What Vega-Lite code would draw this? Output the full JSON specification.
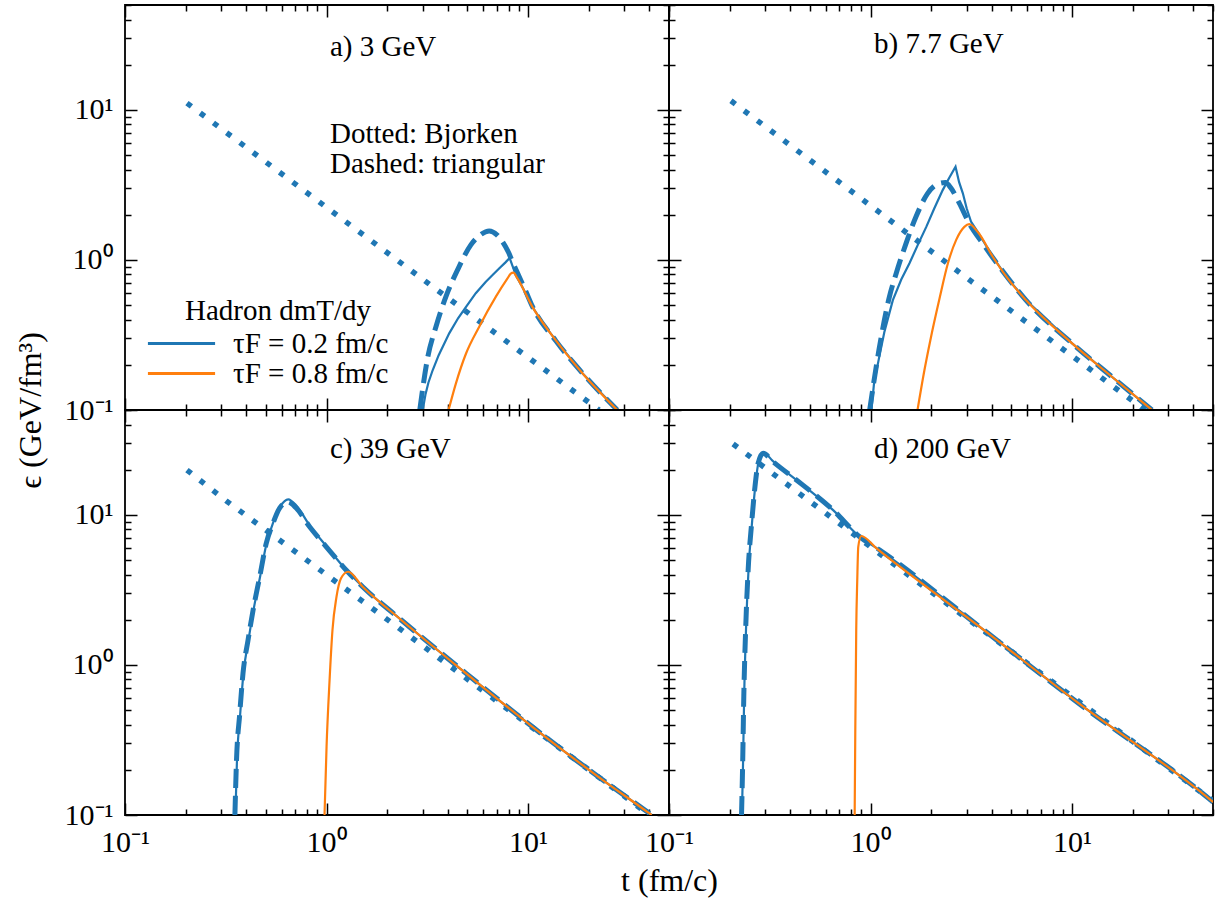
{
  "$schema": "https://vega.github.io/schema/vega-lite/v6.json",
  "background": "white",
  "padding": {"left": 13, "top": 3, "right": 5, "bottom": 5},
  "datasets": {
    "d": [
      {"p":"a","c":"bj","t":0.203,"e":11.1},{"p":"a","c":"bj","t":3.43,"e":0.65},{"p":"a","c":"bj","t":22.5,"e":0.1},
      {"p":"a","c":"tri","t":2.9,"e":0.1},{"p":"a","c":"tri","t":3.18,"e":0.226},{"p":"a","c":"tri","t":3.49,"e":0.359},{"p":"a","c":"tri","t":3.91,"e":0.569},{"p":"a","c":"tri","t":4.46,"e":0.855},{"p":"a","c":"tri","t":5.2,"e":1.26},{"p":"a","c":"tri","t":5.8,"e":1.47},{"p":"a","c":"tri","t":6.41,"e":1.56},{"p":"a","c":"tri","t":7.0,"e":1.47},{"p":"a","c":"tri","t":7.47,"e":1.32},{"p":"a","c":"tri","t":8.0,"e":1.12},{"p":"a","c":"tri","t":8.37,"e":0.97},{"p":"a","c":"tri","t":9.0,"e":0.78},{"p":"a","c":"tri","t":9.73,"e":0.62},{"p":"a","c":"tri","t":10.5,"e":0.49},{"p":"a","c":"tri","t":13.7,"e":0.29},{"p":"a","c":"tri","t":18.6,"e":0.176},{"p":"a","c":"tri","t":27.7,"e":0.1},
      {"p":"a","c":"s02","t":3.0,"e":0.1},{"p":"a","c":"s02","t":3.1,"e":0.128},{"p":"a","c":"s02","t":3.2,"e":0.152},{"p":"a","c":"s02","t":3.36,"e":0.184},{"p":"a","c":"s02","t":3.6,"e":0.232},{"p":"a","c":"s02","t":4.06,"e":0.324},{"p":"a","c":"s02","t":4.5,"e":0.41},{"p":"a","c":"s02","t":4.92,"e":0.487},{"p":"a","c":"s02","t":5.5,"e":0.6},{"p":"a","c":"s02","t":6.17,"e":0.716},{"p":"a","c":"s02","t":6.7,"e":0.8},{"p":"a","c":"s02","t":7.2,"e":0.88},{"p":"a","c":"s02","t":7.7,"e":0.96},{"p":"a","c":"s02","t":8.1,"e":1.03},{"p":"a","c":"s02","t":8.4,"e":0.9},{"p":"a","c":"s02","t":8.69,"e":0.79},{"p":"a","c":"s02","t":9.2,"e":0.69},{"p":"a","c":"s02","t":10.5,"e":0.487},{"p":"a","c":"s02","t":12,"e":0.37},{"p":"a","c":"s02","t":13.7,"e":0.292},{"p":"a","c":"s02","t":18.6,"e":0.176},{"p":"a","c":"s02","t":27.7,"e":0.1},
      {"p":"a","c":"s08","t":4.03,"e":0.1},{"p":"a","c":"s08","t":4.38,"e":0.15},{"p":"a","c":"s08","t":4.92,"e":0.238},{"p":"a","c":"s08","t":5.72,"e":0.359},{"p":"a","c":"s08","t":6.92,"e":0.569},{"p":"a","c":"s08","t":7.9,"e":0.753},{"p":"a","c":"s08","t":8.2,"e":0.81},{"p":"a","c":"s08","t":8.45,"e":0.822},{"p":"a","c":"s08","t":8.85,"e":0.753},{"p":"a","c":"s08","t":10.5,"e":0.487},{"p":"a","c":"s08","t":13.7,"e":0.292},{"p":"a","c":"s08","t":18.6,"e":0.176},{"p":"a","c":"s08","t":27.7,"e":0.1},

      {"p":"b","c":"bj","t":0.203,"e":11.5},{"p":"b","c":"bj","t":2.92,"e":0.78},{"p":"b","c":"bj","t":23,"e":0.1},
      {"p":"b","c":"tri","t":0.99,"e":0.1},{"p":"b","c":"tri","t":1.1,"e":0.25},{"p":"b","c":"tri","t":1.24,"e":0.568},{"p":"b","c":"tri","t":1.34,"e":0.813},{"p":"b","c":"tri","t":1.5,"e":1.29},{"p":"b","c":"tri","t":1.68,"e":1.94},{"p":"b","c":"tri","t":1.92,"e":2.78},{"p":"b","c":"tri","t":2.2,"e":3.24},{"p":"b","c":"tri","t":2.35,"e":3.28},{"p":"b","c":"tri","t":2.51,"e":3.0},{"p":"b","c":"tri","t":2.76,"e":2.38},{"p":"b","c":"tri","t":3.09,"e":1.75},{"p":"b","c":"tri","t":3.6,"e":1.29},{"p":"b","c":"tri","t":4.36,"e":0.9},{"p":"b","c":"tri","t":5.9,"e":0.54},{"p":"b","c":"tri","t":10,"e":0.278},{"p":"b","c":"tri","t":15.8,"e":0.166},{"p":"b","c":"tri","t":24.9,"e":0.1},
      {"p":"b","c":"s02","t":1.01,"e":0.1},{"p":"b","c":"s02","t":1.04,"e":0.15},{"p":"b","c":"s02","t":1.1,"e":0.22},{"p":"b","c":"s02","t":1.17,"e":0.33},{"p":"b","c":"s02","t":1.29,"e":0.54},{"p":"b","c":"s02","t":1.42,"e":0.74},{"p":"b","c":"s02","t":1.56,"e":0.95},{"p":"b","c":"s02","t":1.72,"e":1.27},{"p":"b","c":"s02","t":1.89,"e":1.66},{"p":"b","c":"s02","t":2.07,"e":2.2},{"p":"b","c":"s02","t":2.28,"e":2.92},{"p":"b","c":"s02","t":2.45,"e":3.5},{"p":"b","c":"s02","t":2.64,"e":4.18},{"p":"b","c":"s02","t":2.75,"e":3.3},{"p":"b","c":"s02","t":2.87,"e":2.78},{"p":"b","c":"s02","t":3.0,"e":2.2},{"p":"b","c":"s02","t":3.15,"e":1.8},{"p":"b","c":"s02","t":3.4,"e":1.54},{"p":"b","c":"s02","t":4.04,"e":1.05},{"p":"b","c":"s02","t":4.79,"e":0.753},{"p":"b","c":"s02","t":5.9,"e":0.54},{"p":"b","c":"s02","t":10,"e":0.278},{"p":"b","c":"s02","t":15.8,"e":0.166},{"p":"b","c":"s02","t":24.9,"e":0.1},
      {"p":"b","c":"s08","t":1.71,"e":0.1},{"p":"b","c":"s08","t":1.85,"e":0.184},{"p":"b","c":"s08","t":1.98,"e":0.292},{"p":"b","c":"s08","t":2.2,"e":0.555},{"p":"b","c":"s08","t":2.42,"e":0.95},{"p":"b","c":"s08","t":2.66,"e":1.36},{"p":"b","c":"s08","t":2.92,"e":1.66},{"p":"b","c":"s08","t":3.09,"e":1.73},{"p":"b","c":"s08","t":3.4,"e":1.54},{"p":"b","c":"s08","t":4.04,"e":1.05},{"p":"b","c":"s08","t":4.79,"e":0.753},{"p":"b","c":"s08","t":5.9,"e":0.54},{"p":"b","c":"s08","t":10,"e":0.278},{"p":"b","c":"s08","t":15.8,"e":0.166},{"p":"b","c":"s08","t":24.9,"e":0.1},

      {"p":"c","c":"bj","t":0.203,"e":19.9},{"p":"c","c":"bj","t":0.318,"e":12.4},{"p":"c","c":"bj","t":2.58,"e":1.56},{"p":"c","c":"bj","t":40,"e":0.1},
      {"p":"c","c":"tri","t":0.351,"e":0.1},{"p":"c","c":"tri","t":0.357,"e":0.221},{"p":"c","c":"tri","t":0.371,"e":0.475},{"p":"c","c":"tri","t":0.385,"e":0.879},{"p":"c","c":"tri","t":0.408,"e":1.47},{"p":"c","c":"tri","t":0.432,"e":2.32},{"p":"c","c":"tri","t":0.466,"e":3.87},{"p":"c","c":"tri","t":0.502,"e":6.46},{"p":"c","c":"tri","t":0.542,"e":8.78},{"p":"c","c":"tri","t":0.585,"e":11.1},{"p":"c","c":"tri","t":0.643,"e":12.2},{"p":"c","c":"tri","t":0.707,"e":11.1},{"p":"c","c":"tri","t":0.824,"e":8.34},{"p":"c","c":"tri","t":0.997,"e":6.13},{"p":"c","c":"tri","t":1.25,"e":4.29},{"p":"c","c":"tri","t":1.51,"e":3.32},{"p":"c","c":"tri","t":2.3,"e":2.04},{"p":"c","c":"tri","t":4.92,"e":0.879},{"p":"c","c":"tri","t":10.5,"e":0.387},{"p":"c","c":"tri","t":22.4,"e":0.179},{"p":"c","c":"tri","t":39,"e":0.105},{"p":"c","c":"tri","t":41,"e":0.1},
      {"p":"c","c":"s02","t":0.353,"e":0.1},{"p":"c","c":"s02","t":0.359,"e":0.221},{"p":"c","c":"s02","t":0.373,"e":0.475},{"p":"c","c":"s02","t":0.387,"e":0.879},{"p":"c","c":"s02","t":0.41,"e":1.47},{"p":"c","c":"s02","t":0.434,"e":2.32},{"p":"c","c":"s02","t":0.468,"e":3.87},{"p":"c","c":"s02","t":0.504,"e":6.46},{"p":"c","c":"s02","t":0.544,"e":8.9},{"p":"c","c":"s02","t":0.59,"e":11.4},{"p":"c","c":"s02","t":0.645,"e":12.7},{"p":"c","c":"s02","t":0.71,"e":11.5},{"p":"c","c":"s02","t":0.824,"e":8.5},{"p":"c","c":"s02","t":0.997,"e":6.2},{"p":"c","c":"s02","t":1.25,"e":4.3},{"p":"c","c":"s02","t":1.51,"e":3.32},{"p":"c","c":"s02","t":2.3,"e":2.04},{"p":"c","c":"s02","t":4.92,"e":0.879},{"p":"c","c":"s02","t":10.5,"e":0.387},{"p":"c","c":"s02","t":22.4,"e":0.179},{"p":"c","c":"s02","t":39,"e":0.105},{"p":"c","c":"s02","t":41,"e":0.1},
      {"p":"c","c":"s08","t":0.977,"e":0.1},{"p":"c","c":"s08","t":1.0,"e":0.285},{"p":"c","c":"s08","t":1.035,"e":0.79},{"p":"c","c":"s08","t":1.07,"e":1.71},{"p":"c","c":"s08","t":1.12,"e":2.84},{"p":"c","c":"s08","t":1.18,"e":3.78},{"p":"c","c":"s08","t":1.28,"e":4.18},{"p":"c","c":"s08","t":1.51,"e":3.32},{"p":"c","c":"s08","t":2.3,"e":2.04},{"p":"c","c":"s08","t":4.92,"e":0.879},{"p":"c","c":"s08","t":10.5,"e":0.387},{"p":"c","c":"s08","t":22.4,"e":0.179},{"p":"c","c":"s08","t":39,"e":0.105},{"p":"c","c":"s08","t":41,"e":0.1},

      {"p":"d","c":"bj","t":0.208,"e":29.7},{"p":"d","c":"bj","t":1.2,"e":5.1},{"p":"d","c":"bj","t":50,"e":0.124},
      {"p":"d","c":"tri","t":0.229,"e":0.1},{"p":"d","c":"tri","t":0.232,"e":0.221},{"p":"d","c":"tri","t":0.235,"e":0.614},{"p":"d","c":"tri","t":0.24,"e":1.71},{"p":"d","c":"tri","t":0.247,"e":4.29},{"p":"d","c":"tri","t":0.257,"e":8.78},{"p":"d","c":"tri","t":0.267,"e":15.4},{"p":"d","c":"tri","t":0.277,"e":22.1},{"p":"d","c":"tri","t":0.293,"e":25.7},{"p":"d","c":"tri","t":0.328,"e":22.6},{"p":"d","c":"tri","t":0.462,"e":15.8},{"p":"d","c":"tri","t":0.65,"e":10.8},{"p":"d","c":"tri","t":0.883,"e":7.15},{"p":"d","c":"tri","t":1.11,"e":5.83},{"p":"d","c":"tri","t":3.47,"e":1.8},{"p":"d","c":"tri","t":10.8,"e":0.554},{"p":"d","c":"tri","t":48.6,"e":0.126},{"p":"d","c":"tri","t":50,"e":0.122},
      {"p":"d","c":"s02","t":0.23,"e":0.1},{"p":"d","c":"s02","t":0.233,"e":0.221},{"p":"d","c":"s02","t":0.236,"e":0.614},{"p":"d","c":"s02","t":0.241,"e":1.71},{"p":"d","c":"s02","t":0.248,"e":4.29},{"p":"d","c":"s02","t":0.258,"e":8.78},{"p":"d","c":"s02","t":0.268,"e":15.6},{"p":"d","c":"s02","t":0.278,"e":22.4},{"p":"d","c":"s02","t":0.294,"e":26.0},{"p":"d","c":"s02","t":0.328,"e":22.8},{"p":"d","c":"s02","t":0.462,"e":15.8},{"p":"d","c":"s02","t":0.65,"e":10.8},{"p":"d","c":"s02","t":0.883,"e":7.15},{"p":"d","c":"s02","t":1.11,"e":5.83},{"p":"d","c":"s02","t":3.47,"e":1.8},{"p":"d","c":"s02","t":10.8,"e":0.554},{"p":"d","c":"s02","t":48.6,"e":0.126},{"p":"d","c":"s02","t":50,"e":0.122},
      {"p":"d","c":"s08","t":0.834,"e":0.1},{"p":"d","c":"s08","t":0.84,"e":0.368},{"p":"d","c":"s08","t":0.849,"e":1.71},{"p":"d","c":"s08","t":0.859,"e":3.68},{"p":"d","c":"s08","t":0.869,"e":6.13},{"p":"d","c":"s08","t":0.899,"e":7.23},{"p":"d","c":"s08","t":1.07,"e":5.98},{"p":"d","c":"s08","t":3.47,"e":1.8},{"p":"d","c":"s08","t":10.8,"e":0.554},{"p":"d","c":"s08","t":48.6,"e":0.126},{"p":"d","c":"s08","t":50,"e":0.122}
    ]
  },
  "data": {"name": "d"},
  "columns": 2,
  "spacing": 0,
  "bounds": "flush",
  "resolve": {"scale": {"color": "independent"}, "legend": {"color": "independent"}},
  "concat": [
    {
      "width": 544, "height": 405,
      "title": {"text": "a) 3 GeV", "subtitle": ["Dotted: Bjorken", "Dashed: triangular"], "align": "left", "dx": 205, "offset": -175, "subtitlePadding": 58, "subtitleLineHeight": 30, "subtitleFont": "Liberation Serif", "subtitleFontSize": 29, "subtitleColor": "black"},
      "transform": [{"filter": "datum.p == 'a'"}],
      "resolve": {"axis": {"x": "independent", "y": "independent"}},
      "layer": [
        {"transform": [{"filter": "datum.c == 's02'"}],
         "mark": {"type": "line", "strokeWidth": 2.2, "clip": true},
         "encoding": {
           "x": {"field": "t", "type": "quantitative", "scale": {"type": "log", "domain": [0.1, 50], "nice": false}, "axis": null},
           "y": {"field": "e", "type": "quantitative", "scale": {"type": "log", "domain": [0.1, 50], "nice": false},
                 "axis": {"orient": "left", "values": [0.1, 1, 10], "ticks": false, "domain": false, "labelPadding": 12, "labelExpr": "datum.value < 0.5 ? '10⁻¹' : datum.value < 5 ? '10⁰' : '10¹'", "title": "ϵ (GeV/fm³)", "titleX": -95, "titleY": 405, "titleBaseline": "middle", "titleAngle": -90}},
           "color": {"field": "c", "type": "nominal", "scale": {"domain": ["s02", "s08"], "range": ["#1f77b4", "#ff7f0e"]},
                     "legend": {"orient": "none", "legendX": 42, "legendY": 292, "title": "Hadron dmT/dy", "titleAnchor": "middle", "titleLimit": 500, "labelLimit": 400, "labelExpr": "datum.label == 's02' ? 'τF = 0.2 fm/c' : 'τF = 0.8 fm/c'", "symbolType": "M-4.4,0H4.4", "symbolSize": 233, "symbolStrokeWidth": 3, "labelOffset": 37, "rowPadding": 0, "titlePadding": 3}}
         }},
        {"transform": [{"filter": "datum.c == 'tri'"}],
         "mark": {"type": "line", "color": "#1f77b4", "strokeWidth": 5, "strokeDash": [19, 8], "strokeCap": "butt", "interpolate": "monotone", "clip": true},
         "encoding": {
           "x": {"field": "t", "type": "quantitative", "scale": {"type": "log", "domain": [0.1, 50], "nice": false},
                 "axis": {"orient": "bottom", "values": [0.1,0.2,0.3,0.4,0.5,0.6,0.7,0.8,0.9,1,2,3,4,5,6,7,8,9,10,20,30,40,50], "labels": false, "domain": false, "title": null, "tickSize": {"condition": {"test": "datum.value == 0.1 || datum.value == 1 || datum.value == 10", "value": -12}, "value": -6}}},
           "y": {"field": "e", "type": "quantitative", "scale": {"type": "log", "domain": [0.1, 50], "nice": false},
                 "axis": {"orient": "left", "values": [0.1,0.2,0.3,0.4,0.5,0.6,0.7,0.8,0.9,1,2,3,4,5,6,7,8,9,10,20,30,40,50], "labels": false, "domain": false, "title": null, "tickSize": {"condition": {"test": "datum.value == 0.1 || datum.value == 1 || datum.value == 10", "value": -12}, "value": -6}}}
         }},
        {"transform": [{"filter": "datum.c == 'bj'"}],
         "mark": {"type": "line", "color": "#1f77b4", "strokeWidth": 5.5, "strokeDash": [5.5, 11], "strokeCap": "butt", "clip": true},
         "encoding": {
           "x": {"field": "t", "type": "quantitative", "scale": {"type": "log", "domain": [0.1, 50], "nice": false},
                 "axis": {"orient": "top", "values": [0.1,0.2,0.3,0.4,0.5,0.6,0.7,0.8,0.9,1,2,3,4,5,6,7,8,9,10,20,30,40,50], "labels": false, "domain": false, "title": null, "tickSize": {"condition": {"test": "datum.value == 0.1 || datum.value == 1 || datum.value == 10", "value": -12}, "value": -6}}},
           "y": {"field": "e", "type": "quantitative", "scale": {"type": "log", "domain": [0.1, 50], "nice": false},
                 "axis": {"orient": "right", "values": [0.1,0.2,0.3,0.4,0.5,0.6,0.7,0.8,0.9,1,2,3,4,5,6,7,8,9,10,20,30,40,50], "labels": false, "domain": false, "title": null, "tickSize": {"condition": {"test": "datum.value == 0.1 || datum.value == 1 || datum.value == 10", "value": -12}, "value": -6}}}
         }},
        {"transform": [{"filter": "datum.c == 's08'"}],
         "mark": {"type": "line", "strokeWidth": 2.2, "interpolate": "monotone", "clip": true},
         "encoding": {
           "x": {"field": "t", "type": "quantitative", "scale": {"type": "log", "domain": [0.1, 50], "nice": false}, "axis": null},
           "y": {"field": "e", "type": "quantitative", "scale": {"type": "log", "domain": [0.1, 50], "nice": false}, "axis": null},
           "color": {"field": "c", "type": "nominal", "scale": {"domain": ["s02", "s08"], "range": ["#1f77b4", "#ff7f0e"]}}
         }}
      ]
    },
    {
      "width": 544, "height": 405,
      "title": {"text": "b) 7.7 GeV", "dx": 205, "offset": -55},
      "transform": [{"filter": "datum.p == 'b'"}],
      "resolve": {"axis": {"x": "independent", "y": "independent"}},
      "layer": [
        {"transform": [{"filter": "datum.c == 's02'"}],
         "mark": {"type": "line", "color": "#1f77b4", "strokeWidth": 2.2, "clip": true},
         "encoding": {
           "x": {"field": "t", "type": "quantitative", "scale": {"type": "log", "domain": [0.1, 50], "nice": false}, "axis": null},
           "y": {"field": "e", "type": "quantitative", "scale": {"type": "log", "domain": [0.1, 50], "nice": false}, "axis": null}
         }},
        {"transform": [{"filter": "datum.c == 'tri'"}],
         "mark": {"type": "line", "color": "#1f77b4", "strokeWidth": 5, "strokeDash": [19, 8], "strokeCap": "butt", "interpolate": "monotone", "clip": true},
         "encoding": {
           "x": {"field": "t", "type": "quantitative", "scale": {"type": "log", "domain": [0.1, 50], "nice": false},
                 "axis": {"orient": "bottom", "values": [0.1,0.2,0.3,0.4,0.5,0.6,0.7,0.8,0.9,1,2,3,4,5,6,7,8,9,10,20,30,40,50], "labels": false, "domain": false, "title": null, "tickSize": {"condition": {"test": "datum.value == 0.1 || datum.value == 1 || datum.value == 10", "value": -12}, "value": -6}}},
           "y": {"field": "e", "type": "quantitative", "scale": {"type": "log", "domain": [0.1, 50], "nice": false},
                 "axis": {"orient": "left", "values": [0.1,0.2,0.3,0.4,0.5,0.6,0.7,0.8,0.9,1,2,3,4,5,6,7,8,9,10,20,30,40,50], "labels": false, "domain": false, "title": null, "tickSize": {"condition": {"test": "datum.value == 0.1 || datum.value == 1 || datum.value == 10", "value": -12}, "value": -6}}}
         }},
        {"transform": [{"filter": "datum.c == 'bj'"}],
         "mark": {"type": "line", "color": "#1f77b4", "strokeWidth": 5.5, "strokeDash": [5.5, 11], "strokeCap": "butt", "clip": true},
         "encoding": {
           "x": {"field": "t", "type": "quantitative", "scale": {"type": "log", "domain": [0.1, 50], "nice": false},
                 "axis": {"orient": "top", "values": [0.1,0.2,0.3,0.4,0.5,0.6,0.7,0.8,0.9,1,2,3,4,5,6,7,8,9,10,20,30,40,50], "labels": false, "domain": false, "title": null, "tickSize": {"condition": {"test": "datum.value == 0.1 || datum.value == 1 || datum.value == 10", "value": -12}, "value": -6}}},
           "y": {"field": "e", "type": "quantitative", "scale": {"type": "log", "domain": [0.1, 50], "nice": false},
                 "axis": {"orient": "right", "values": [0.1,0.2,0.3,0.4,0.5,0.6,0.7,0.8,0.9,1,2,3,4,5,6,7,8,9,10,20,30,40,50], "labels": false, "domain": false, "title": null, "tickSize": {"condition": {"test": "datum.value == 0.1 || datum.value == 1 || datum.value == 10", "value": -12}, "value": -6}}}
         }},
        {"transform": [{"filter": "datum.c == 's08'"}],
         "mark": {"type": "line", "color": "#ff7f0e", "strokeWidth": 2.2, "interpolate": "monotone", "clip": true},
         "encoding": {
           "x": {"field": "t", "type": "quantitative", "scale": {"type": "log", "domain": [0.1, 50], "nice": false}, "axis": null},
           "y": {"field": "e", "type": "quantitative", "scale": {"type": "log", "domain": [0.1, 50], "nice": false}, "axis": null}
         }}
      ]
    },
    {
      "width": 544, "height": 405,
      "title": {"text": "c) 39 GeV", "dx": 205, "offset": -55},
      "transform": [{"filter": "datum.p == 'c'"}],
      "resolve": {"axis": {"x": "independent", "y": "independent"}},
      "layer": [
        {"transform": [{"filter": "datum.c == 's02'"}],
         "mark": {"type": "line", "color": "#1f77b4", "strokeWidth": 2.2, "interpolate": "monotone", "clip": true},
         "encoding": {
           "x": {"field": "t", "type": "quantitative", "scale": {"type": "log", "domain": [0.1, 50], "nice": false},
                 "axis": {"orient": "bottom", "values": [0.1, 1, 10], "ticks": false, "domain": false, "labelPadding": 12, "labelExpr": "datum.value < 0.5 ? '10⁻¹' : datum.value < 5 ? '10⁰' : '10¹'", "title": "t (fm/c)", "titleX": 544, "titleY": 65, "titleBaseline": "middle"}},
           "y": {"field": "e", "type": "quantitative", "scale": {"type": "log", "domain": [0.1, 50], "nice": false},
                 "axis": {"orient": "left", "values": [0.1, 1, 10], "ticks": false, "domain": false, "labelPadding": 12, "labelExpr": "datum.value < 0.5 ? '10⁻¹' : datum.value < 5 ? '10⁰' : '10¹'", "title": null}}
         }},
        {"transform": [{"filter": "datum.c == 'tri'"}],
         "mark": {"type": "line", "color": "#1f77b4", "strokeWidth": 5, "strokeDash": [19, 8], "strokeCap": "butt", "interpolate": "monotone", "clip": true},
         "encoding": {
           "x": {"field": "t", "type": "quantitative", "scale": {"type": "log", "domain": [0.1, 50], "nice": false},
                 "axis": {"orient": "bottom", "values": [0.1,0.2,0.3,0.4,0.5,0.6,0.7,0.8,0.9,1,2,3,4,5,6,7,8,9,10,20,30,40,50], "labels": false, "domain": false, "title": null, "tickSize": {"condition": {"test": "datum.value == 0.1 || datum.value == 1 || datum.value == 10", "value": -12}, "value": -6}}},
           "y": {"field": "e", "type": "quantitative", "scale": {"type": "log", "domain": [0.1, 50], "nice": false},
                 "axis": {"orient": "left", "values": [0.1,0.2,0.3,0.4,0.5,0.6,0.7,0.8,0.9,1,2,3,4,5,6,7,8,9,10,20,30,40,50], "labels": false, "domain": false, "title": null, "tickSize": {"condition": {"test": "datum.value == 0.1 || datum.value == 1 || datum.value == 10", "value": -12}, "value": -6}}}
         }},
        {"transform": [{"filter": "datum.c == 'bj'"}],
         "mark": {"type": "line", "color": "#1f77b4", "strokeWidth": 5.5, "strokeDash": [5.5, 11], "strokeCap": "butt", "clip": true},
         "encoding": {
           "x": {"field": "t", "type": "quantitative", "scale": {"type": "log", "domain": [0.1, 50], "nice": false},
                 "axis": {"orient": "top", "values": [0.1,0.2,0.3,0.4,0.5,0.6,0.7,0.8,0.9,1,2,3,4,5,6,7,8,9,10,20,30,40,50], "labels": false, "domain": false, "title": null, "tickSize": {"condition": {"test": "datum.value == 0.1 || datum.value == 1 || datum.value == 10", "value": -12}, "value": -6}}},
           "y": {"field": "e", "type": "quantitative", "scale": {"type": "log", "domain": [0.1, 50], "nice": false},
                 "axis": {"orient": "right", "values": [0.1,0.2,0.3,0.4,0.5,0.6,0.7,0.8,0.9,1,2,3,4,5,6,7,8,9,10,20,30,40,50], "labels": false, "domain": false, "title": null, "tickSize": {"condition": {"test": "datum.value == 0.1 || datum.value == 1 || datum.value == 10", "value": -12}, "value": -6}}}
         }},
        {"transform": [{"filter": "datum.c == 's08'"}],
         "mark": {"type": "line", "color": "#ff7f0e", "strokeWidth": 2.2, "interpolate": "monotone", "clip": true},
         "encoding": {
           "x": {"field": "t", "type": "quantitative", "scale": {"type": "log", "domain": [0.1, 50], "nice": false}, "axis": null},
           "y": {"field": "e", "type": "quantitative", "scale": {"type": "log", "domain": [0.1, 50], "nice": false}, "axis": null}
         }}
      ]
    },
    {
      "width": 544, "height": 405,
      "title": {"text": "d) 200 GeV", "dx": 205, "offset": -55},
      "transform": [{"filter": "datum.p == 'd'"}],
      "resolve": {"axis": {"x": "independent", "y": "independent"}},
      "layer": [
        {"transform": [{"filter": "datum.c == 's02'"}],
         "mark": {"type": "line", "color": "#1f77b4", "strokeWidth": 2.2, "interpolate": "monotone", "clip": true},
         "encoding": {
           "x": {"field": "t", "type": "quantitative", "scale": {"type": "log", "domain": [0.1, 50], "nice": false},
                 "axis": {"orient": "bottom", "values": [0.1, 1, 10], "ticks": false, "domain": false, "labelPadding": 12, "labelExpr": "datum.value < 0.5 ? '10⁻¹' : datum.value < 5 ? '10⁰' : '10¹'", "title": null}},
           "y": {"field": "e", "type": "quantitative", "scale": {"type": "log", "domain": [0.1, 50], "nice": false}, "axis": null}
         }},
        {"transform": [{"filter": "datum.c == 'tri'"}],
         "mark": {"type": "line", "color": "#1f77b4", "strokeWidth": 5, "strokeDash": [19, 8], "strokeCap": "butt", "interpolate": "monotone", "clip": true},
         "encoding": {
           "x": {"field": "t", "type": "quantitative", "scale": {"type": "log", "domain": [0.1, 50], "nice": false},
                 "axis": {"orient": "bottom", "values": [0.1,0.2,0.3,0.4,0.5,0.6,0.7,0.8,0.9,1,2,3,4,5,6,7,8,9,10,20,30,40,50], "labels": false, "domain": false, "title": null, "tickSize": {"condition": {"test": "datum.value == 0.1 || datum.value == 1 || datum.value == 10", "value": -12}, "value": -6}}},
           "y": {"field": "e", "type": "quantitative", "scale": {"type": "log", "domain": [0.1, 50], "nice": false},
                 "axis": {"orient": "left", "values": [0.1,0.2,0.3,0.4,0.5,0.6,0.7,0.8,0.9,1,2,3,4,5,6,7,8,9,10,20,30,40,50], "labels": false, "domain": false, "title": null, "tickSize": {"condition": {"test": "datum.value == 0.1 || datum.value == 1 || datum.value == 10", "value": -12}, "value": -6}}}
         }},
        {"transform": [{"filter": "datum.c == 'bj'"}],
         "mark": {"type": "line", "color": "#1f77b4", "strokeWidth": 5.5, "strokeDash": [5.5, 11], "strokeCap": "butt", "clip": true},
         "encoding": {
           "x": {"field": "t", "type": "quantitative", "scale": {"type": "log", "domain": [0.1, 50], "nice": false},
                 "axis": {"orient": "top", "values": [0.1,0.2,0.3,0.4,0.5,0.6,0.7,0.8,0.9,1,2,3,4,5,6,7,8,9,10,20,30,40,50], "labels": false, "domain": false, "title": null, "tickSize": {"condition": {"test": "datum.value == 0.1 || datum.value == 1 || datum.value == 10", "value": -12}, "value": -6}}},
           "y": {"field": "e", "type": "quantitative", "scale": {"type": "log", "domain": [0.1, 50], "nice": false},
                 "axis": {"orient": "right", "values": [0.1,0.2,0.3,0.4,0.5,0.6,0.7,0.8,0.9,1,2,3,4,5,6,7,8,9,10,20,30,40,50], "labels": false, "domain": false, "title": null, "tickSize": {"condition": {"test": "datum.value == 0.1 || datum.value == 1 || datum.value == 10", "value": -12}, "value": -6}}}
         }},
        {"transform": [{"filter": "datum.c == 's08'"}],
         "mark": {"type": "line", "color": "#ff7f0e", "strokeWidth": 2.2, "interpolate": "monotone", "clip": true},
         "encoding": {
           "x": {"field": "t", "type": "quantitative", "scale": {"type": "log", "domain": [0.1, 50], "nice": false}, "axis": null},
           "y": {"field": "e", "type": "quantitative", "scale": {"type": "log", "domain": [0.1, 50], "nice": false}, "axis": null}
         }}
      ]
    }
  ],
  "config": {
    "font": "Liberation Serif",
    "view": {"stroke": "black", "strokeWidth": 1.8},
    "axis": {"grid": false, "domain": false, "labelFont": "Liberation Serif", "labelFontSize": 30, "labelColor": "black", "tickColor": "black", "tickWidth": 1.5, "titleFont": "Liberation Serif", "titleFontSize": 32, "titleFontWeight": "normal", "titleColor": "black", "labelFlush": false, "labelOverlap": false},
    "title": {"font": "Liberation Serif", "fontSize": 29, "fontWeight": "normal", "color": "black", "anchor": "start", "frame": "group"},
    "legend": {"titleFont": "Liberation Serif", "titleFontSize": 29, "titleFontWeight": "normal", "titleColor": "black", "labelFont": "Liberation Serif", "labelFontSize": 29, "labelColor": "black"}
  }
}
